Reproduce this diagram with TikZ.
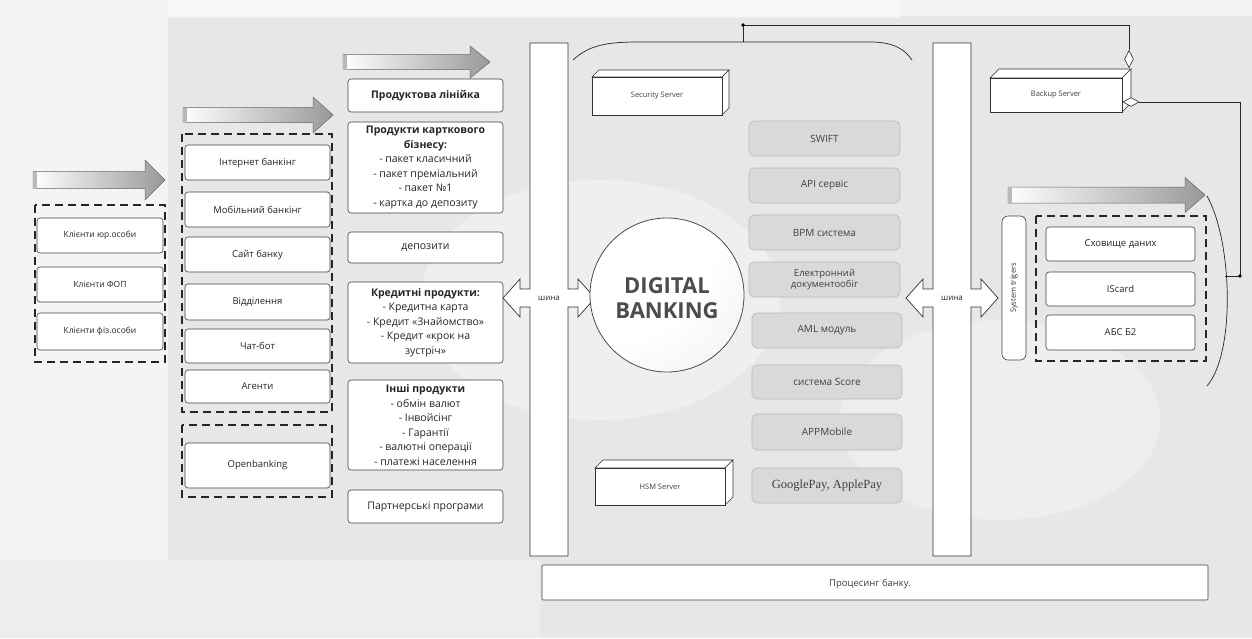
\documentclass[tikz,border=0pt]{standalone}
\usepackage{fontspec}
\setmainfont{Open Sans}
\newfontfamily\serfont{Liberation Serif}
\usetikzlibrary{shapes.geometric,calc}
\pgfdeclareradialshading{myball}{\pgfpoint{-30bp}{30bp}}{color(0bp)=(white); color(35bp)=(white); color(70bp)=(gray!22); color(100bp)=(gray!55)}
\newcommand\bx[7]{\node[#6, minimum width={(#4-#2)*1pt}, minimum height={(#5-#3)*1pt}] (#1) at ({(#2+#4)/2},{(#3+#5)/2}) {#7};}
\newcommand\blkarrow[7]{%
  \path[draw=black!60, line width=0.5pt, left color=white, right color=gray!80] (#2,#4-#5) -- (#3-#7,#4-#5) -- (#3-#7,#4-#6) -- (#3,#4) -- (#3-#7,#4+#6) -- (#3-#7,#4+#5) -- (#2,#4+#5) -- cycle;
  \fill[gray!55] (#2,#4-#5) rectangle (#2+4,#4+#5);
  \coordinate (#1) at (#3,#4);}
\newcommand\srvbox[7]{%
  \filldraw[fill=white, draw=black!80, line width=0.6pt] (#2,#3) -- (#2+#6,#3-#6) -- (#4+#6,#3-#6) -- (#4,#3) -- cycle;
  \filldraw[fill=white, draw=black!80, line width=0.6pt] (#4,#3) -- (#4+#6,#3-#6) -- (#4+#6,#5-#6) -- (#4,#5) -- cycle;
  \bx{#1}{#2}{#3}{#4}{#5}{srv}{#7}}
\newcommand\busshape[6]{%
  \filldraw[fill=white, draw=black!80, line width=0.7pt] (#2,#4) -- (#3,#4) -- (#3,#6-9) -- (#3+10,#6-9) -- (#3+10,#6-19) -- (#3+27,#6) -- (#3+10,#6+19) -- (#3+10,#6+9) -- (#3,#6+9) -- (#3,#5) -- (#2,#5) -- (#2,#6+9) -- (#2-10,#6+9) -- (#2-10,#6+19) -- (#2-27,#6) -- (#2-10,#6-19) -- (#2-10,#6-9) -- (#2,#6-9) -- cycle;
  \node[font=\fontsize{8}{9}\selectfont, text=black!85] (#1) at ({(#2+#3)/2},#6) {шина};}
\tikzset{
  wbox/.style={draw=black!75, fill=white, rounded corners=3pt, line width=0.6pt, align=center, inner sep=2pt, text=black!85},
  gbox/.style={draw=gray!55, fill=gray!30, rounded corners=5pt, line width=0.6pt, align=center, inner sep=2pt, text=black!75, font=\fontsize{10}{12}\selectfont},
  srv/.style={draw=black!80, fill=white, line width=0.6pt, inner sep=1pt, font=\fontsize{7.5}{8}\selectfont, text=black!75},
  dbox/.style={draw=black!85, dash pattern=on 8pt off 5pt, line width=1.2pt},
  c1/.style={wbox, font=\fontsize{8.5}{10}\selectfont},
  c2/.style={wbox, font=\fontsize{9.5}{11}\selectfont},
  c3/.style={wbox, font=\fontsize{10.5}{14.5}\selectfont},
}
\begin{document}
\begin{tikzpicture}[x=1pt,y=-1pt]
\useasboundingbox (0,0) rectangle (1252,638);
% background
\fill[gray!9] (0,0) rectangle (1252,638);
\fill[gray!19] (168,16) rectangle (1252,638);
\fill[white, opacity=0.5] (168,0) rectangle (900,18);
\fill[gray!14] (0,560) rectangle (540,638);
\fill[white, opacity=0.35] (600,300) ellipse (180 and 120);
\fill[white, opacity=0.3] (1000,420) ellipse (160 and 100);

% column 1
\blkarrow{a1}{33}{165}{180}{8.5}{20}{20}
\draw[dbox] (35,205) rectangle (165,362);
\bx{k1}{37}{218}{163}{253}{c1}{Клієнти юр.особи}
\bx{k2}{37}{267}{163}{302}{c1}{Клієнти ФОП}
\bx{k3}{37}{313}{163}{350}{c1}{Клієнти фіз.особи}

% column 2
\blkarrow{a2}{183}{333}{115}{7.5}{18}{20}
\draw[dbox] (182,134) rectangle (332,412);
\bx{ch1}{185}{145}{330}{180}{c2}{Інтернет банкінг}
\bx{ch2}{185}{192}{330}{227}{c2}{Мобільний банкінг}
\bx{ch3}{185}{237}{330}{272}{c2}{Сайт банку}
\bx{ch4}{185}{284}{330}{320}{c2}{Відділення}
\bx{ch5}{185}{329}{330}{363}{c2}{Чат-бот}
\bx{ch6}{185}{370}{330}{403}{c2}{Агенти}
\draw[dbox] (182,425) rectangle (332,497);
\bx{ch7}{185}{443}{330}{488}{c2}{Openbanking}

% column 3
\blkarrow{a3}{343}{490}{62}{7.5}{16}{20}
\bx{p1}{348}{79}{503}{112}{c3}{\textbf{Продуктова лінійка}}
\bx{p2}{348}{122}{503}{213}{c3}{\textbf{Продукти карткового}\\\textbf{бізнесу:}\\- пакет класичний\\- пакет преміальний\\- пакет №1\\- картка до депозиту}
\bx{p3}{348}{232}{503}{263}{c3}{депозити}
\bx{p4}{348}{282}{503}{363}{c3}{\textbf{Кредитні продукти:}\\- Кредитна карта\\- Кредит «Знайомство»\\- Кредит «крок на\\зустріч»}
\bx{p5}{348}{380}{503}{470}{c3}{\textbf{Інші продукти}\\- обмін валют\\- Інвойсінг\\- Гарантії\\- валютні операції\\- платежі населення}
\bx{p6}{348}{490}{503}{523}{c3}{Партнерські програми}

% buses
\busshape{bus1}{530}{568}{43}{556}{298}
\busshape{bus2}{933}{971}{43}{556}{298}

% top arc and connection to backup server
\coordinate (arcL) at (573,60);
\coordinate (arcR) at (912,60);
\coordinate (arcT) at (743,42);
\coordinate (jn) at (743,25);
\draw[black!85, line width=0.7pt] (arcL) .. controls (590,44) and (610,42) .. (640,42) -- (870,42) .. controls (895,42) and (905,50) .. (arcR);
\draw[black!85, line width=0.7pt] (arcT) -- (jn) -- (1129,25) -- (1129,50);
\fill (jn) circle (1.8);

% center circle
\shade[shading=myball] (667,295) circle (77);
\node[draw=black!70, line width=0.8pt, circle, minimum size=154pt, inner sep=0] (db) at (667,295) {};
\node[font=\bfseries\fontsize{22}{25}\selectfont, text=black!70, align=center] (dbt) at (667,298) {DIGITAL\\BANKING};

% servers
\srvbox{sec}{592}{77}{722}{115}{7}{Security Server}
\srvbox{hsm}{595}{468}{725}{505}{8}{HSM Server}
\srvbox{bkp}{990}{78}{1122}{112}{9}{Backup Server}

% gray system boxes
\bx{s1}{749}{121}{900}{156}{gbox}{SWIFT}
\bx{s2}{749}{168}{900}{203}{gbox}{API сервіс}
\bx{s3}{749}{215}{900}{250}{gbox}{BPM система}
\bx{s4}{749}{262}{900}{297}{gbox, font=\fontsize{9.5}{11}\selectfont}{Електронний\\документообіг}
\bx{s5}{752}{313}{902}{348}{gbox}{AML модуль}
\bx{s6}{752}{365}{902}{399}{gbox}{система Score}
\bx{s7}{752}{414}{902}{450}{gbox}{APPMobile}
\bx{s8}{752}{468}{902}{503}{gbox, font=\serfont\fontsize{12.5}{14}\selectfont}{GooglePay, ApplePay}

% diamonds of backup server
\node[diamond, draw=black!85, fill=white, line width=0.6pt, minimum width=9pt, minimum height=17pt, inner sep=0] (dm1) at (1129,59) {};
\node[diamond, draw=black!85, fill=white, line width=0.6pt, minimum width=16pt, minimum height=9pt, inner sep=0] (dm2) at (1131,102) {};
\coordinate (dot2) at (1240,276);
\coordinate (end2) at (1225,276);
\draw[black!85, line width=0.7pt] (dm2.east) -- (1240,102) -- (dot2) -- (end2);
\fill (dot2) circle (1.8);

% right part
\blkarrow{a4}{1008}{1205}{195}{8}{17.5}{20}
\draw[black!85, line width=0.7pt] (1207,196) .. controls (1232,240) and (1236,352) .. (1207,386);
\bx{trg}{1002}{216}{1026}{360}{wbox, rounded corners=6pt}{}
\node[rotate=90, font=\fontsize{7.5}{9}\selectfont, text=black!80] (trgt) at (trg.center) {System trigers};
\draw[dbox] (1036,216) rectangle (1206,361);
\bx{r1}{1046}{227}{1195}{261}{c2}{Сховище даних}
\bx{r2}{1046}{272}{1195}{306}{c2}{IScard}
\bx{r3}{1046}{315}{1195}{350}{c2}{АБС Б2}

% bottom
\bx{proc}{542}{565}{1208}{600}{wbox, rounded corners=1pt}{}
\node[font=\fontsize{9.5}{11}\selectfont, text=black!75] (proct) at (870,584) {Процесинг банку.};
\end{tikzpicture}
\end{document}
